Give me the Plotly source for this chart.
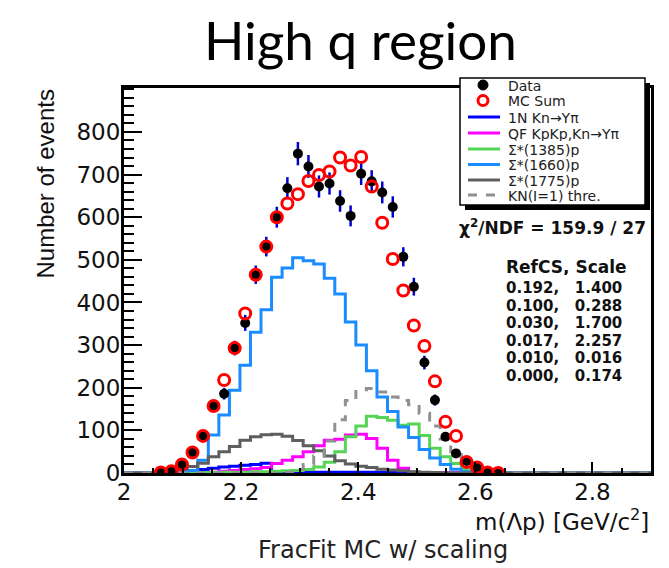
import numpy as np
import plotly.graph_objects as go

# Histogram binning: 50 bins of 18 MeV over [2.0, 2.9] GeV/c^2.
# The series below cover bins 3..35 (centres 2.063 ... 2.639).
hist_lo, hist_hi, bin_w = 2.0, 2.9, 0.018
first_bin = 3

data_counts = [1, 4, 19, 48, 87, 157, 186, 293, 352, 465, 531, 600, 668, 749,
               719, 672, 679, 638, 603, 702, 684, 658, 624, 507, 437, 259, 171,
               85, 46, 28, 12, 2, 1]
mc_sum = [1, 4, 20, 48, 87, 157, 218, 293, 374, 465, 531, 600, 632, 654, 685,
          699, 707, 740, 721, 741, 672, 587, 502, 428, 346, 298, 215, 120, 87,
          26, 13, 1, 0]
h_1n = [0, 1, 3, 5, 8, 11, 14, 16, 18, 20, 23, 3, 2, 2, 2, 2, 2, 2, 2, 2, 2,
        2, 2, 2, 2, 1, 0, 0, 0, 0, 0, 0, 0]
h_qf = [0, 0, 0, 0, 0, 2, 4, 6, 8, 10, 13, 22, 30, 38, 50, 64, 77, 79, 89, 91,
        81, 58, 30, 11, 1, 0, 0, 0, 0, 0, 0, 0, 0]
h_s1385 = [0, 0, 0, 0, 1, 1, 2, 2, 2, 3, 3, 4, 5, 6, 8, 14, 25, 50, 85, 110,
           133, 130, 124, 112, 115, 88, 58, 38, 22, 8, 2, 0, 0]
h_s1660 = [0, 0, 2, 6, 30, 89, 136, 194, 253, 330, 383, 459, 481, 505, 498,
           490, 457, 420, 354, 300, 240, 178, 144, 108, 83, 55, 35, 20, 9, 3, 1,
           0, 0]
h_s1775 = [0, 5, 10, 15, 23, 38, 50, 62, 77, 85, 90, 91, 86, 76, 64, 52, 40,
           29, 21, 16, 13, 9, 7, 5, 3, 2, 1, 0, 0, 0, 0, 0, 0]
h_kn = [0, 0, 0, 0, 0, 0, 0, 0, 0, 0, 0, 0, 2, 8, 20, 40, 75, 125, 170, 195,
        198, 190, 178, 170, 160, 140, 110, 80, 50, 25, 8, 2, 0]

legend_labels = ["Data", "MC Sum", "1N Kn\u2192Y\u03c0", "QF KpKp,Kn\u2192Y\u03c0",
                 "\u03a3*(1385)p", "\u03a3*(1660)p", "\u03a3*(1775)p",
                 "KN(I=1) thre."]
fit_rows = [("0.192", "1.400"), ("0.100", "0.288"), ("0.030", "1.700"),
            ("0.017", "2.257"), ("0.010", "0.016"), ("0.000", "0.174")]

n_all = int(round((hist_hi - hist_lo) / bin_w))
edges = hist_lo + bin_w * np.arange(n_all + 1)
centers = hist_lo + bin_w * (np.arange(first_bin, first_bin + len(data_counts)) + 0.5)

ROOT_FONT = "DejaVu Sans"

# plot-area geometry in pixels (used for the hand-built legend and labels)
W, H = 669, 568
L, R, T, B = 124, 651, 88, 473


def px(x):
    return (x - L) / (R - L)


def py(y):
    return (B - y) / (B - T)


def step_trace(vals, color, width=3, dash="solid"):
    full = np.zeros(n_all)
    full[first_bin:first_bin + len(vals)] = vals
    xs = [edges[0]] + list(edges)
    ys = [0.0] + list(full) + [0.0]
    return go.Scatter(x=xs, y=ys, mode="lines", line_shape="hv",
                      line=dict(color=color, width=width, dash=dash),
                      showlegend=False, hoverinfo="skip")


components = [
    (h_1n, "#0000ff", "solid"),
    (h_qf, "#ff00ff", "solid"),
    (h_s1385, "#55d455", "solid"),
    (h_s1660, "#1a8cff", "solid"),
    (h_s1775, "#5e5e5e", "solid"),
    (h_kn, "#909090", "dash"),
]

fig = go.Figure()
for vals, col, dash in components:
    fig.add_trace(step_trace(vals, col, 3, dash))

fig.add_trace(go.Scatter(
    x=centers, y=data_counts, mode="markers",
    marker=dict(symbol="circle", size=10, color="black"),
    error_y=dict(type="data", array=np.sqrt(data_counts), color="#0000cc",
                 thickness=2.5, width=0),
    showlegend=False))
fig.add_trace(go.Scatter(
    x=centers, y=mc_sum, mode="markers",
    marker=dict(symbol="circle-open", size=11, color="#ff0000",
                line=dict(width=3, color="#ff0000")),
    showlegend=False))

shapes = []
annotations = []

# legend box with shadow
shapes.append(dict(type="rect", xref="paper", yref="paper",
                   x0=px(465), x1=px(650), y0=py(210), y1=py(83),
                   fillcolor="black", line=dict(width=0), layer="above"))
shapes.append(dict(type="rect", xref="paper", yref="paper",
                   x0=px(460), x1=px(645), y0=py(205), y1=py(78),
                   fillcolor="white", line=dict(color="black", width=1.5),
                   layer="above"))

entry_y = [85, 100.5, 117, 133, 149, 164.5, 180, 195]
sym_x = 483
shapes.append(dict(type="circle", xref="paper", yref="paper",
                   x0=px(sym_x - 5), x1=px(sym_x + 5),
                   y0=py(entry_y[0] + 5), y1=py(entry_y[0] - 5),
                   fillcolor="black", line=dict(color="black", width=1),
                   layer="above"))
shapes.append(dict(type="circle", xref="paper", yref="paper",
                   x0=px(sym_x - 5), x1=px(sym_x + 5),
                   y0=py(entry_y[1] + 5), y1=py(entry_y[1] - 5),
                   fillcolor="rgba(0,0,0,0)", line=dict(color="#ff0000", width=3),
                   layer="above"))
for (vals, col, dash), yy in zip(components, entry_y[2:]):
    shapes.append(dict(type="line", xref="paper", yref="paper",
                       x0=px(468), x1=px(500), y0=py(yy), y1=py(yy),
                       line=dict(color=col, width=3, dash=dash), layer="above"))
for lab, yy in zip(legend_labels, entry_y):
    annotations.append(dict(text=lab, xref="paper", yref="paper",
                            x=px(507), y=py(yy), xanchor="left", yanchor="middle",
                            showarrow=False, height=15, borderpad=0,
                            font=dict(family=ROOT_FONT, size=14, color="#222")))

# fit summary
annotations.append(dict(text="<b>\u03c7<sup>2</sup>/NDF = 159.9 / 27</b>",
                        xref="paper", yref="paper", x=px(648), y=py(227),
                        xanchor="right", yanchor="middle", showarrow=False,
                        font=dict(family=ROOT_FONT, size=17, color="#111")))
annotations.append(dict(text="<b>RefCS, Scale</b>", xref="paper", yref="paper",
                        x=px(505), y=py(267), xanchor="left", yanchor="middle",
                        showarrow=False, height=16, borderpad=0,
                        font=dict(family=ROOT_FONT, size=17, color="#111")))
row_pitch = 17.5
for k, (cs, sc) in enumerate(fit_rows):
    annotations.append(dict(text="<b>%s,\u00a0\u00a0\u00a0%s</b>" % (cs, sc),
                            xref="paper", yref="paper", x=px(505),
                            y=py(287.5 + row_pitch * k), xanchor="left",
                            yanchor="middle", showarrow=False,
                            height=15, borderpad=0,
                            font=dict(family=ROOT_FONT, size=15, color="#111")))

# titles
annotations.append(dict(text="High q region", xref="paper", yref="paper",
                        x=px(360), y=py(40), xanchor="center", yanchor="middle",
                        showarrow=False,
                        font=dict(family="Lato", size=53, color="black")))
annotations.append(dict(text="Number of events", xref="paper", yref="paper",
                        x=px(45), y=1.0, xanchor="center", yanchor="top",
                        textangle=-90, showarrow=False,
                        font=dict(family="Liberation Sans", size=24,
                                  color="#111")))
annotations.append(dict(text="m(\u039bp) [GeV/c<sup>2</sup>]", xref="paper",
                        yref="paper", x=1.0, y=py(520), xanchor="right",
                        yanchor="middle", showarrow=False,
                        font=dict(family=ROOT_FONT, size=23, color="#111")))
annotations.append(dict(text="FracFit MC w/ scaling", xref="paper",
                        yref="paper", x=px(383), y=py(550), xanchor="center",
                        yanchor="middle", showarrow=False,
                        font=dict(family=ROOT_FONT, size=24, color="#222")))

fig.update_layout(
    width=W, height=H,
    margin=dict(l=L, r=W - R, t=T, b=H - B, pad=0),
    paper_bgcolor="white", plot_bgcolor="white",
    showlegend=False,
    shapes=shapes, annotations=annotations,
    xaxis=dict(range=[hist_lo, hist_hi], tick0=2.0, dtick=0.2,
               ticks="inside", ticklen=11, tickwidth=2, tickcolor="black",
               minor=dict(tick0=2.0, dtick=0.05, ticks="inside", ticklen=5,
                          tickwidth=2, tickcolor="black"),
               showline=True, linecolor="black", linewidth=2.5, mirror=True,
               showgrid=False, zeroline=False, ticklabelstandoff=-3,
               tickfont=dict(family=ROOT_FONT, size=23, color="#111")),
    yaxis=dict(range=[0, 903], tickmode="array",
               tickvals=list(range(0, 801, 100)),
               ticks="inside", ticklen=18, tickwidth=2, tickcolor="black",
               minor=dict(tickmode="linear", tick0=0, dtick=20, ticks="inside",
                          ticklen=10, tickwidth=2, tickcolor="black"),
               showline=True, linecolor="black", linewidth=3, mirror=True,
               showgrid=False, zeroline=False, ticklabelstandoff=-4,
               tickfont=dict(family=ROOT_FONT, size=23, color="#111")),
)

fig.write_html("out.html")
